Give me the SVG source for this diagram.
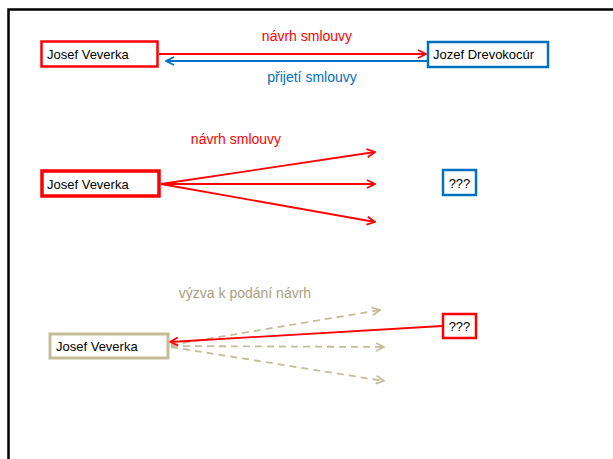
<svg xmlns="http://www.w3.org/2000/svg" width="613" height="459" viewBox="0 0 613 459">
<defs>
<style>
.t{font-family:"Liberation Sans",Arial,sans-serif;font-size:13px;fill:#000}
.lbl{font-family:"Liberation Sans",Arial,sans-serif;font-size:14px}
.box{fill:#fff}
</style>
<marker id="ar" viewBox="0 0 10 10" refX="9" refY="5" markerWidth="10" markerHeight="10" markerUnits="userSpaceOnUse" orient="auto"><path d="M1,1 L9,5 L1,9" fill="none" stroke="#FF0000" stroke-width="1.8"/></marker>
<marker id="ab" viewBox="0 0 10 10" refX="9" refY="5" markerWidth="10" markerHeight="10" markerUnits="userSpaceOnUse" orient="auto"><path d="M1,1 L9,5 L1,9" fill="none" stroke="#0070C0" stroke-width="1.8"/></marker>
<marker id="at" viewBox="0 0 10 10" refX="9" refY="5" markerWidth="10" markerHeight="10" markerUnits="userSpaceOnUse" orient="auto"><path d="M1,1 L9,5 L1,9" fill="none" stroke="#C4BD97" stroke-width="1.8"/></marker>
</defs>
<rect width="613" height="459" fill="#fff"/>
<path d="M8.5,459 V9.5 H613" fill="none" stroke="#000" stroke-width="2.5"/>

<g id="connectors">
<line x1="159" y1="54" x2="426" y2="54" stroke="#FF0000" stroke-width="1.8" marker-end="url(#ar)"/>
<line x1="427" y1="61" x2="166" y2="61" stroke="#0070C0" stroke-width="1.8" marker-end="url(#ab)"/>
<line x1="161" y1="184" x2="375" y2="152" stroke="#FF0000" stroke-width="1.8" marker-end="url(#ar)"/>
<line x1="161" y1="184" x2="375" y2="184" stroke="#FF0000" stroke-width="1.8" marker-end="url(#ar)"/>
<line x1="161" y1="184" x2="375" y2="222" stroke="#FF0000" stroke-width="1.8" marker-end="url(#ar)"/>
<line x1="171" y1="345" x2="380" y2="310" stroke="#C4BD97" stroke-width="1.8" stroke-dasharray="7,5" marker-end="url(#at)"/>
<line x1="171" y1="346" x2="384" y2="347" stroke="#C4BD97" stroke-width="1.8" stroke-dasharray="7,5" marker-end="url(#at)"/>
<line x1="171" y1="347" x2="384" y2="381" stroke="#C4BD97" stroke-width="1.8" stroke-dasharray="7,5" marker-end="url(#at)"/>
<line x1="442" y1="326" x2="170" y2="342" stroke="#FF0000" stroke-width="1.8" marker-end="url(#ar)"/>
</g>

<text class="lbl" x="307" y="41" text-anchor="middle" fill="#FF0000">návrh smlouvy</text>
<text class="lbl" x="312" y="82" text-anchor="middle" fill="#0070C0">přijetí smlouvy</text>
<text class="lbl" x="236" y="144" text-anchor="middle" fill="#FF0000">návrh smlouvy</text>
<text class="lbl" x="245" y="298" text-anchor="middle" fill="#A8A080">výzva k podání návrh</text>

<g id="n1"><rect class="box" x="41.5" y="41.5" width="116" height="25" stroke="#FF0000" stroke-width="2.5"/><text class="t" x="47" y="59">Josef Veverka</text></g>
<g id="n2"><rect class="box" x="428" y="42" width="120" height="25" stroke="#0070C0" stroke-width="2.5"/><text class="t" x="433" y="59">Jozef Drevokocúr</text></g>
<g id="n3"><rect class="box" x="42" y="171" width="117" height="25" stroke="#FF0000" stroke-width="3.5"/><text class="t" x="47" y="189">Josef Veverka</text></g>
<g id="n4"><rect class="box" x="443" y="170" width="33" height="25" stroke="#0070C0" stroke-width="2.5"/><text class="t" x="459.5" y="188" text-anchor="middle">???</text></g>
<g id="n5"><rect class="box" x="50" y="334" width="118" height="24" stroke="#C4BD97" stroke-width="3"/><text class="t" x="56" y="351">Josef Veverka</text></g>
<g id="n6"><rect class="box" x="443" y="314" width="33" height="24" stroke="#FF0000" stroke-width="2.5"/><text class="t" x="459.5" y="331" text-anchor="middle">???</text></g>
</svg>
